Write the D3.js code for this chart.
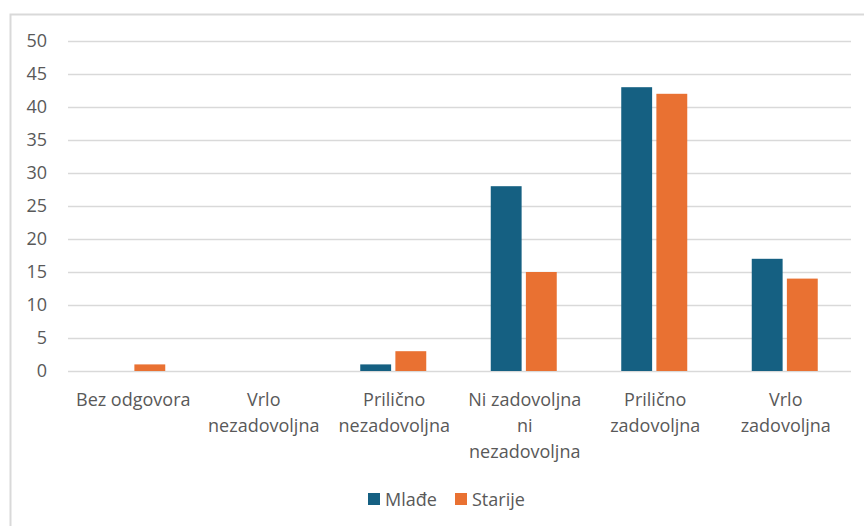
<!DOCTYPE html>
<html><head><meta charset="utf-8">
<script src="https://cdn.jsdelivr.net/npm/d3@7"></script>
<style>html,body{margin:0;padding:0;background:#fff;}svg{display:block;}</style>
</head><body>
<svg id="c" width="864" height="526"></svg>
<script>
const categories = [
  ["Bez odgovora"],
  ["Vrlo", "nezadovoljna"],
  ["Prilično", "nezadovoljna"],
  ["Ni zadovoljna", "ni", "nezadovoljna"],
  ["Prilično", "zadovoljna"],
  ["Vrlo", "zadovoljna"]
];
const seriesNames = ["Mlađe", "Starije"];
const mladje = [0, 0, 1, 28, 43, 17];
const starije = [1, 0, 3, 15, 42, 14];
const yTicks = [0, 5, 10, 15, 20, 25, 30, 35, 40, 45, 50];
const colors = ["#156082", "#E97132"];

(function(){
const svg = d3.select("#c");
const font = "Open Sans, Liberation Sans, sans-serif";
const fs = 18;
// chart border
svg.append("path").attr("d","M10.5,526 L10.5,14.5 L864,14.5").attr("fill","none").attr("stroke","#d9d9d9").attr("stroke-width",2);

const mL = 68, mR = 851, mT = 41, mB = 371;
const x = d3.scaleBand().domain(d3.range(categories.length)).range([mL, mR]);
const y = d3.scaleLinear().domain([0, 50]).range([mB, mT]);

const yAxis = d3.axisLeft(y).tickValues(yTicks).tickSize(-(mR-mL)).tickPadding(21);
const gy = svg.append("g").attr("transform", `translate(${mL},0)`).call(yAxis);
gy.select(".domain").remove();
gy.selectAll(".tick line").attr("stroke", "#d9d9d9").attr("stroke-width", 1.5);
gy.selectAll(".tick text").attr("fill", "#595959").attr("font-size", fs).attr("font-family", font);

const inner = d3.scaleBand().domain([0,1]).range([0, 66]).paddingInner(8/66);
const data = [mladje, starije];
data.forEach((vals, si) => {
  svg.append("g").selectAll("rect").data(vals).join("rect")
    .attr("x", (d,i) => x(i) + x.bandwidth()/2 - 33 - 1 + inner(si))
    .attr("width", inner.bandwidth())
    .attr("y", d => y(d))
    .attr("height", d => y(0) - y(d))
    .attr("fill", colors[si]);
});

// x labels
const gx = svg.append("g");
categories.forEach((lines, i) => {
  const t = gx.append("text").attr("text-anchor","middle").attr("fill","#595959")
    .attr("font-size",fs).attr("font-family",font);
  lines.forEach((ln, j) => {
    t.append("tspan").attr("x", x(i) + x.bandwidth()/2).attr("y", 406 + j*26).text(ln);
  });
});

// legend
const lg = svg.append("g");
const legendX = [368, 455];
seriesNames.forEach((n, i) => {
  lg.append("rect").attr("x", legendX[i]).attr("y", 493).attr("width", 12).attr("height", 12).attr("fill", colors[i]);
  lg.append("text").attr("x", legendX[i] + 17).attr("y", 506).attr("fill","#595959")
    .attr("font-size",fs).attr("font-family",font).text(n);
});
})();
</script>
</body></html>
